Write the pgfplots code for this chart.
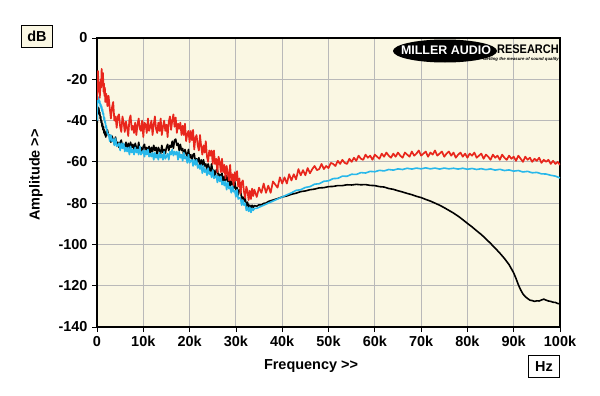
\documentclass[border=0pt]{standalone}
\usepackage{fontspec}
\setmainfont{Liberation Sans}
\usepackage{pgfplots}
\pgfplotsset{compat=1.18}
\definecolor{cream}{RGB}{250,247,227}
\definecolor{myred}{RGB}{232,38,28}
\definecolor{myblue}{RGB}{40,184,234}
\definecolor{gridgray}{RGB}{185,185,185}
\begin{document}
\begin{tikzpicture}
\path[use as bounding box, fill=white] (0,0) rectangle (600bp,-396bp);
\begin{axis}[
  at={(97bp,-327bp)}, anchor=south west,
  scale only axis, width=463bp, height=289bp,
  xmin=0, xmax=100, ymin=-140, ymax=0,
  xtick={0,10,...,100},
  xticklabels={0,10k,20k,30k,40k,50k,60k,70k,80k,90k,100k},
  ytick={-140,-120,-100,-80,-60,-40,-20,0},
  yticklabels={-140,-120,-100,-80,-60,-40,-20,0},
  xtick pos=left, ytick pos=left,
  tick align=outside, major tick length=5bp,
  tick style={black, line width=0.8pt},
  grid=major, grid style={gridgray, line width=1pt},
  axis line style={line width=1.6pt},
  axis background/.style={fill=cream},
  tick label style={font=\bfseries\fontsize{14.5}{16}\selectfont},
  xticklabel style={yshift=-1bp},
  yticklabel style={xshift=-1bp},
  clip=true,
]
\addplot[black, line width=1.6pt, line join=round] coordinates {
(0,-45) (0.1,-36) (0.2,-33.5) (0.3,-35) (0.4,-34) (0.5,-37) (0.6,-36) (0.7,-39) (0.8,-38) (0.9,-41)
(1.0,-40) (1.1,-43) (1.2,-41.5) (1.3,-44.5) (1.4,-43) (1.5,-46) (1.6,-44.5) (1.7,-47) (1.8,-45.5) (1.9,-48)
(2.00,-46.5) (2.25,-44.5) (2.50,-47.5) (2.75,-47) (3.00,-50.5) (3.25,-47.5) (3.50,-49.5) (3.75,-51.5)
(4.00,-48) (4.25,-51.5) (4.50,-50.5) (4.75,-53) (5.00,-50.5) (5.25,-49.5) (5.50,-53) (5.75,-51.5)
(6.00,-53) (6.25,-50.5) (6.50,-54.5) (6.75,-51) (7.00,-53.5) (7.25,-50.5) (7.50,-53) (7.75,-51.5)
(8.00,-54.5) (8.25,-51) (8.50,-53) (8.75,-54.5) (9.00,-50.5) (9.25,-54) (9.50,-53) (9.75,-55.5)
(10.00,-52.5) (10.25,-51.5) (10.50,-55) (10.75,-53) (11.00,-55) (11.25,-52.5) (11.50,-56.5) (11.75,-53)
(12.00,-55) (12.25,-52) (12.50,-54.5) (12.75,-53) (13.00,-56.5) (13.25,-53) (13.50,-54.5) (13.75,-56)
(14.00,-52) (14.25,-55.5) (14.50,-54) (14.75,-56) (15.00,-53) (15.25,-51.5) (15.50,-54.5) (15.75,-52)
(16.00,-53) (16.25,-50) (16.50,-53.5) (16.75,-49.5) (17.00,-49) (17.25,-52) (17.50,-51) (17.75,-54.5)
(18.00,-51.5) (18.25,-54.5) (18.50,-53.5) (18.75,-57) (19.00,-54) (19.25,-56) (19.50,-58) (19.75,-54)
(20.00,-58) (20.25,-56.5) (20.50,-59.5) (20.75,-56.5) (21.00,-56) (21.25,-60) (21.50,-58.5) (21.75,-60)
(22.00,-58) (22.25,-62.5) (22.50,-59) (22.75,-61.5) (23.00,-59) (23.25,-62) (23.50,-61) (23.75,-64)
(24.00,-61) (24.25,-63) (24.50,-65) (24.75,-61) (25.00,-65) (25.25,-64) (25.50,-67) (25.75,-64)
(26.00,-63.5) (26.25,-67.5) (26.50,-66) (26.75,-67.5) (27.00,-65.5) (27.25,-70) (27.50,-67) (27.75,-69)
(28.00,-66.5) (28.25,-69.5) (28.50,-68.5) (28.75,-72) (29.00,-69) (29.25,-71) (29.50,-73) (29.75,-69.5)
(30.00,-73.5) (30.25,-72.5) (30.50,-76) (30.75,-73.5) (31.00,-73.5) (31.25,-78) (31.50,-77) (31.75,-79)
(32.00,-77.5) (32.25,-81.5) (32.50,-79.5) (32.75,-82) (33.00,-81) (33.25,-82.5) (33.50,-81) (33.75,-82)
(34.00,-81.2) (34.5,-81.5) (35,-80.8) (35.5,-80.9) (36,-80.1) (36.5,-80) (37,-79.2) (38,-78.5) (39,-77.8)
(40,-77) (41,-76.5) (42,-75.7) (43,-75.2) (44,-74.4) (45,-74.1) (46,-73.5) (47,-73.2) (48,-72.6) (49,-72.5)
(50,-72) (51,-71.9) (52,-71.5) (53,-71.5) (54,-71.1) (55,-71.2) (56,-70.9) (57,-71.1) (58,-71) (59,-71.4)
(60,-71.5) (61,-72) (62,-72.2) (63,-72.9) (64,-73.3) (65,-74) (66,-74.6) (67,-75.3) (68,-75.9) (69,-76.7)
(70,-77.3) (71,-78.2) (72,-79) (73,-80) (74,-81) (75,-82.2) (76,-83.5) (77,-84.8) (78,-86.3) (79,-88)
(80,-89.8) (81,-91.5) (82,-93.4) (83,-95.2) (84,-97.3) (85,-99.5) (86,-101.8) (87,-104.2) (88,-106.8)
(89,-109.8) (90,-113.8) (90.5,-116.5) (91,-119.5) (91.5,-122) (92,-124) (92.5,-125.3) (93,-126.2)
(93.5,-127) (94,-127.2) (94.5,-127.6) (95,-127.3) (95.5,-127.4) (96,-126.9) (96.5,-126.5) (97,-127)
(97.5,-127.4) (98,-127.6) (98.5,-128) (99,-128.1) (99.5,-128.6) (100,-128.8)
};
\addplot[myblue, line width=1.6pt, line join=round] coordinates {
(0,-40) (0.1,-30) (0.2,-28.5) (0.3,-30) (0.4,-29.5) (0.5,-31.5) (0.6,-30.5) (0.7,-33) (0.8,-32) (0.9,-34)
(1.0,-33) (1.1,-35.5) (1.2,-34.5) (1.3,-37) (1.4,-36.5) (1.5,-39.5) (1.6,-38.5) (1.7,-41) (1.8,-40.5) (1.9,-43.5)
(2.00,-42.5) (2.25,-46.5) (2.50,-46.5) (2.75,-50) (3.00,-47) (3.25,-50) (3.50,-49) (3.75,-52)
(4.00,-48.5) (4.25,-52.5) (4.50,-52) (4.75,-51) (5.00,-54.5) (5.25,-51) (5.50,-53.5) (5.75,-51)
(6.00,-55) (6.25,-53) (6.50,-55) (6.75,-53) (7.00,-56.5) (7.25,-52.5) (7.50,-55.5) (7.75,-54)
(8.00,-56.5) (8.25,-53) (8.50,-55.5) (8.75,-54) (9.00,-56.5) (9.25,-52.5) (9.50,-56.5) (9.75,-55.5)
(10.00,-54.5) (10.25,-57.5) (10.50,-54.5) (10.75,-56.5) (11.00,-54) (11.25,-57.5) (11.50,-56) (11.75,-57.5)
(12.00,-55.5) (12.25,-59) (12.50,-55.5) (12.75,-58) (13.00,-56.5) (13.25,-59) (13.50,-55.5) (13.75,-58)
(14.00,-56.5) (14.25,-59) (14.50,-55) (14.75,-58.5) (15.00,-57.5) (15.25,-56) (15.50,-59) (15.75,-55)
(16.00,-56.5) (16.25,-54) (16.50,-57) (16.75,-55) (17.00,-56.5) (17.25,-55) (17.50,-59) (17.75,-55)
(18.00,-58) (18.25,-56.5) (18.50,-59.5) (18.75,-55.5) (19.00,-58.5) (19.25,-57.5) (19.50,-60.5) (19.75,-56.5)
(20.00,-60.5) (20.25,-59.5) (20.50,-59) (20.75,-62) (21.00,-59) (21.25,-61.5) (21.50,-59) (21.75,-63)
(22.00,-61.5) (22.25,-63.5) (22.50,-61.5) (22.75,-65.5) (23.00,-62) (23.25,-65) (23.50,-63.5) (23.75,-66.5)
(24.00,-63) (24.25,-66) (24.50,-65) (24.75,-67.5) (25.00,-64) (25.25,-68) (25.50,-67.5) (25.75,-66.5)
(26.00,-70) (26.25,-67) (26.50,-69.5) (26.75,-67) (27.00,-71) (27.25,-69.5) (27.50,-71.5) (27.75,-69.5)
(28.00,-73.5) (28.25,-70) (28.50,-73) (28.75,-72) (29.00,-75) (29.25,-71.5) (29.50,-74.5) (29.75,-74)
(30.00,-77) (30.25,-73.5) (30.50,-78) (30.75,-77.5) (31.00,-77.5) (31.25,-81) (31.50,-78.5) (31.75,-81)
(32.00,-80) (32.25,-83.5) (32.50,-82) (32.75,-84) (33.00,-82) (33.25,-84.5) (33.50,-82.5) (33.75,-83.5)
(34.00,-82.5) (34.5,-82.5) (35,-82) (35.5,-81.5) (36,-81) (36.5,-80.5) (37,-80) (38,-79) (39,-78) (40,-77)
(41,-76) (42,-75) (43,-73.8) (44,-73.5) (45,-72.4) (46,-72) (47,-70.8) (48,-70.6) (49,-69.4) (50,-69.2)
(51,-68.1) (52,-68) (53,-66.9) (54,-67) (55,-66) (56,-66.1) (57,-65.2) (58,-65.4) (59,-64.6) (60,-64.8)
(61,-64.1) (62,-64.4) (63,-63.7) (64,-64) (65,-63.4) (66,-63.7) (67,-63.1) (68,-63.5) (69,-63) (70,-63.4)
(71,-62.9) (72,-63.4) (73,-63) (74,-63.5) (75,-63) (76,-63.4) (77,-63.1) (78,-63.5) (79,-63.1) (80,-63.6)
(81,-63.2) (82,-63.7) (83,-63.3) (84,-63.8) (85,-63.4) (86,-64) (87,-63.6) (88,-64.2) (89,-63.9) (90,-64.5)
(91,-64.2) (92,-64.9) (93,-64.6) (94,-65.3) (95,-65.1) (96,-65.8) (97,-65.9) (98,-66.5) (99,-66.9) (100,-67.8)
};
\addplot[myred, line width=1.7pt, line join=round] coordinates {
(0,-30) (0.1,-22) (0.2,-16) (0.3,-21) (0.4,-26) (0.5,-23) (0.6,-29) (0.7,-25) (0.8,-20) (0.9,-24)
(1.0,-15) (1.1,-18) (1.2,-23) (1.3,-17) (1.4,-26) (1.5,-22) (1.6,-28) (1.7,-24) (1.8,-31) (1.9,-27)
(2.00,-27) (2.25,-33) (2.50,-28) (2.75,-34) (3.00,-39) (3.25,-33.5) (3.50,-31) (3.75,-40)
(4.00,-38) (4.25,-43.5) (4.50,-38) (4.75,-37) (5.00,-43) (5.25,-45.5) (5.50,-38) (5.75,-41)
(6.00,-45.5) (6.25,-40.5) (6.50,-43.5) (6.75,-47.5) (7.00,-39.5) (7.25,-37.5) (7.50,-44.5) (7.75,-42.5)
(8.00,-46) (8.25,-41) (8.50,-47) (8.75,-42) (9.00,-39) (9.25,-44) (9.50,-45) (9.75,-40)
(10.00,-48) (10.25,-41) (10.50,-42) (10.75,-46) (11.00,-39) (11.25,-45) (11.50,-43) (11.75,-40)
(12.00,-47) (12.25,-42) (12.50,-38) (12.75,-44) (13.00,-46) (13.25,-41) (13.50,-45) (13.75,-39)
(14.00,-47) (14.25,-43) (14.50,-40) (14.75,-45) (15.00,-42) (15.25,-48) (15.50,-40.5) (15.75,-38)
(16.00,-44.5) (16.25,-40) (16.50,-37) (16.75,-43) (17.00,-38.5) (17.25,-46) (17.50,-41.5) (17.75,-44)
(18.00,-41) (18.25,-47) (18.50,-42.5) (18.75,-47) (19.00,-41.5) (19.25,-50) (19.50,-46.5) (19.75,-45)
(20.00,-50.5) (20.25,-45) (20.50,-49.5) (20.75,-44.5) (21.00,-54) (21.25,-48.5) (21.50,-47) (21.75,-52)
(22.00,-54.5) (22.25,-47) (22.50,-52.5) (22.75,-56.5) (23.00,-52) (23.25,-55.5) (23.50,-50) (23.75,-57.5)
(24.00,-60) (24.25,-54.5) (24.50,-57) (24.75,-54.5) (25.00,-61) (25.25,-54.5) (25.50,-61) (25.75,-58.5)
(26.00,-65) (26.25,-57.5) (26.50,-60) (26.75,-65) (27.00,-58.5) (27.25,-65) (27.50,-61.5) (27.75,-68)
(28.00,-62) (28.25,-65.5) (28.50,-69) (28.75,-61.5) (29.00,-69) (29.25,-66) (29.50,-71.5) (29.75,-65)
(30.00,-69) (30.25,-64.5) (30.50,-72) (30.75,-68) (31.00,-75.5) (31.25,-70) (31.50,-69) (31.75,-74.5)
(32.00,-77.5) (32.25,-72) (32.50,-74) (32.75,-78.5) (33.00,-74) (33.25,-78) (33.50,-73) (33.75,-76.5)
(34.00,-73.5) (34.5,-77) (35.0,-72.5) (35.5,-75) (36.0,-70.5) (36.5,-75) (37.0,-71.5) (37.5,-75)
(38.0,-69.5) (38.5,-71) (39.0,-72.5) (39.5,-67.5) (40.0,-70.5) (40.5,-67.5) (41.0,-70.5) (41.5,-66)
(42.0,-69) (42.5,-66) (43.0,-68.5) (43.5,-63.5) (44.0,-66.5) (44.5,-64) (45.0,-66.5)
(45.5,-63) (46,-65.5) (46.5,-63.5) (47,-62) (47.5,-64) (48,-63.5) (48.5,-61) (49,-63.5) (49.5,-62) (50,-63)
(50.5,-60.5) (51,-61) (51.5,-62) (52,-59.5) (52.5,-61) (53,-59) (53.5,-60.5) (54,-61) (54.5,-58.5) (55,-60)
(55.5,-58) (56,-59.5) (56.5,-57) (57,-58.5) (57.5,-59) (58,-56.5) (58.5,-58) (59,-57) (59.5,-59) (60,-56.5)
(60.5,-57.5) (61,-58.5) (61.5,-56) (62,-57.5) (62.5,-55.5) (63,-57) (63.5,-58) (64,-56) (64.5,-57.5) (65,-55.5)
(65.5,-57) (66,-58) (66.5,-55.5) (67,-56.5) (67.5,-57.5) (68,-55) (68.5,-57) (69,-56) (69.5,-54.5) (70,-57)
(70.5,-56) (71,-55) (71.5,-57.5) (72,-55.5) (72.5,-56.5) (73,-54.5) (73.5,-57) (74,-56) (74.5,-55) (75,-57.5)
(75.5,-56) (76,-55) (76.5,-57) (77,-55.5) (77.5,-58) (78,-56.5) (78.5,-55.5) (79,-57.5) (79.5,-56) (80,-58)
(80.5,-56) (81,-57) (81.5,-55.5) (82,-58) (82.5,-57) (83,-56) (83.5,-58.5) (84,-56.5) (84.5,-57.5) (85,-59)
(85.5,-56.5) (86,-58) (86.5,-57) (87,-59) (87.5,-56.5) (88,-58) (88.5,-59) (89,-57) (89.5,-58.5) (90,-57.5)
(90.5,-59.5) (91,-57) (91.5,-58.5) (92,-60) (92.5,-57.5) (93,-59) (93.5,-58) (94,-60) (94.5,-58.5) (95,-59.5)
(95.5,-58) (96,-60.5) (96.5,-59) (97,-60) (97.5,-59) (98,-61) (98.5,-59.5) (99,-61) (99.5,-60) (100,-61.5)
};
\end{axis}
\begin{scope}[x=1bp,y=-1bp]
  % logo
  \fill[black] (445,51) ellipse [x radius=52, y radius=11.5];
  \node[white, font=\bfseries\fontsize{12.5}{13}\selectfont, inner sep=0pt] at (446,50.5) {MILLER AUDIO};
  \node[black, font=\bfseries\fontsize{12.5}{13}\selectfont, inner sep=0pt, anchor=west, xscale=0.88] at (497,49.5) {RESEARCH};
  \node[black, font=\bfseries\itshape\fontsize{4.3}{5}\selectfont, inner sep=0pt, anchor=east] at (559,59) {Getting the measure of sound quality};
  % unit boxes
  \node[draw=black, line width=1.3pt, fill=cream, minimum width=31bp, minimum height=22bp, inner sep=0pt,
        font=\bfseries\fontsize{14.5}{15}\selectfont] at (37,36.5) {dB};
  \node[draw=black, line width=1.3pt, fill=white, minimum width=31bp, minimum height=22bp, inner sep=0pt,
        font=\bfseries\fontsize{14.5}{15}\selectfont] at (544,366.5) {Hz};
  % axis labels
  \node[font=\bfseries\fontsize{14.5}{15}\selectfont, rotate=90] at (36,175) {Amplitude >{}>};
  \node[font=\bfseries\fontsize{14.5}{15}\selectfont] at (311,366) {Frequency >{}>};
\end{scope}
\end{tikzpicture}
\end{document}
